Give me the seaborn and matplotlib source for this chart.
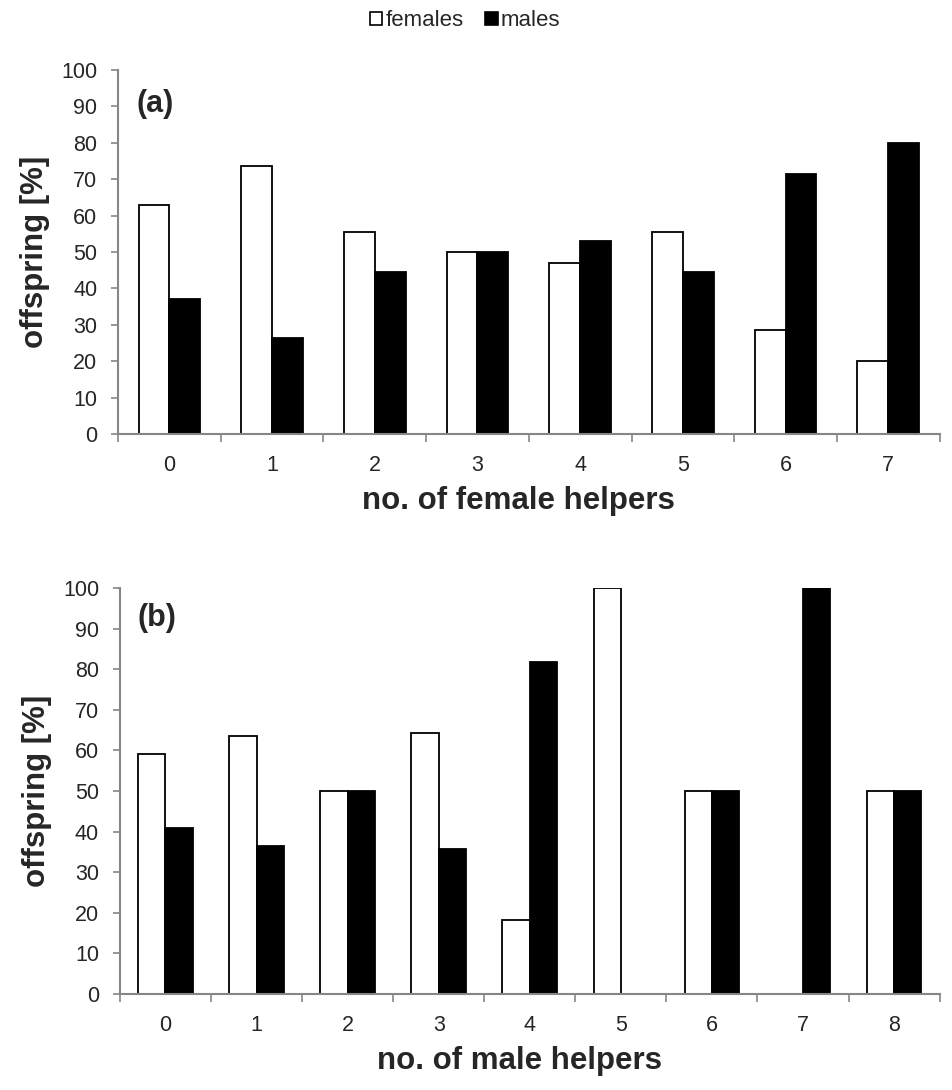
import matplotlib
matplotlib.use("Agg")
import matplotlib.pyplot as plt
import seaborn as sns
import pandas as pd
from matplotlib.patches import Patch

# Data
cats_a = ["0", "1", "2", "3", "4", "5", "6", "7"]
females_a = [63.0, 73.7, 55.6, 50.0, 47.0, 55.6, 28.6, 20.0]
males_a = [37.0, 26.3, 44.4, 50.0, 53.0, 44.4, 71.4, 80.0]

cats_b = ["0", "1", "2", "3", "4", "5", "6", "7", "8"]
females_b = [59.0, 63.6, 50.0, 64.3, 18.2, 100.0, 50.0, 0.0, 50.0]
males_b = [41.0, 36.4, 50.0, 35.7, 81.8, 0.0, 50.0, 100.0, 50.0]

series = ["females", "males"]
yticks = list(range(0, 101, 10))

sns.set_theme(style="white")
plt.rcParams["font.family"] = ["Liberation Sans", "DejaVu Sans"]

fig = plt.figure(figsize=(9.52, 10.9), dpi=100)
ax1 = fig.add_axes([0.124, 0.6018, 0.863, 0.334])
ax2 = fig.add_axes([0.126, 0.0881, 0.861, 0.3725])

GRAY = "#868686"
TICK_FS = 15.5
LABEL_FS = 22.5

def panel(ax, cats, fem, mal, xlabel, tag, tag_y, xlab_y):
    df = pd.DataFrame({
        "cat": cats * 2,
        "val": fem + mal,
        "sex": [series[0]] * len(cats) + [series[1]] * len(cats),
    })
    sns.barplot(data=df, x="cat", y="val", hue="sex", order=cats,
                hue_order=series, palette=["white", "black"],
                edgecolor="black", linewidth=1.3, width=0.6, gap=0,
                ax=ax, legend=False, errorbar=None)
    for p in ax.patches:
        if p.get_height() == 0:
            p.set_linewidth(0)
    n = len(cats)
    ax.set_xlim(-0.5, n - 0.5)
    ax.set_ylim(0, 100)
    ax.set_yticks(yticks)
    ax.set_yticklabels([str(v) for v in yticks], fontsize=TICK_FS)
    ax.set_xticks(range(n))
    ax.set_xticklabels(cats, fontsize=TICK_FS)
    ax.set_xticks([i - 0.5 for i in range(n + 1)], minor=True)
    ax.tick_params(axis="x", which="major", length=0, pad=15)
    ax.tick_params(axis="x", which="minor", length=6, width=1.2, color=GRAY, direction="out", bottom=True)
    ax.tick_params(axis="y", which="major", length=5, width=1.2, color=GRAY, direction="out", left=True, pad=10)
    for s in ["top", "right"]:
        ax.spines[s].set_visible(False)
    for s in ["left", "bottom"]:
        ax.spines[s].set_color(GRAY)
        ax.spines[s].set_linewidth(1.5)
    ax.spines["bottom"].set_zorder(5)
    ax.set_xlabel(xlabel, fontsize=LABEL_FS, fontweight="bold", labelpad=6)
    ax.xaxis.set_label_coords(0.487, xlab_y)
    ax.set_ylabel("offspring [%]", fontsize=LABEL_FS, fontweight="bold", labelpad=8)
    ax.text(0.022, tag_y, tag, transform=ax.transAxes, fontsize=22,
            fontweight="bold", va="center", ha="left")
    ax.set_facecolor("white")

panel(ax1, cats_a, females_a, males_a, "no. of female helpers", "(a)", 0.907, -0.142)
panel(ax2, cats_b, females_b, males_b, "no. of male helpers", "(b)", 0.925, -0.128)

handles = [Patch(facecolor="white", edgecolor="black", linewidth=1.2),
           Patch(facecolor="black", edgecolor="black", linewidth=1.2)]
fig.legend(handles, series, loc="center", bbox_to_anchor=(0.4885, 0.981),
           ncol=2, frameon=False, fontsize=16, handlelength=0.55,
           handleheight=0.55, handletextpad=0.15, columnspacing=1.0)

fig.savefig("out.png", dpi=100, facecolor="white")
